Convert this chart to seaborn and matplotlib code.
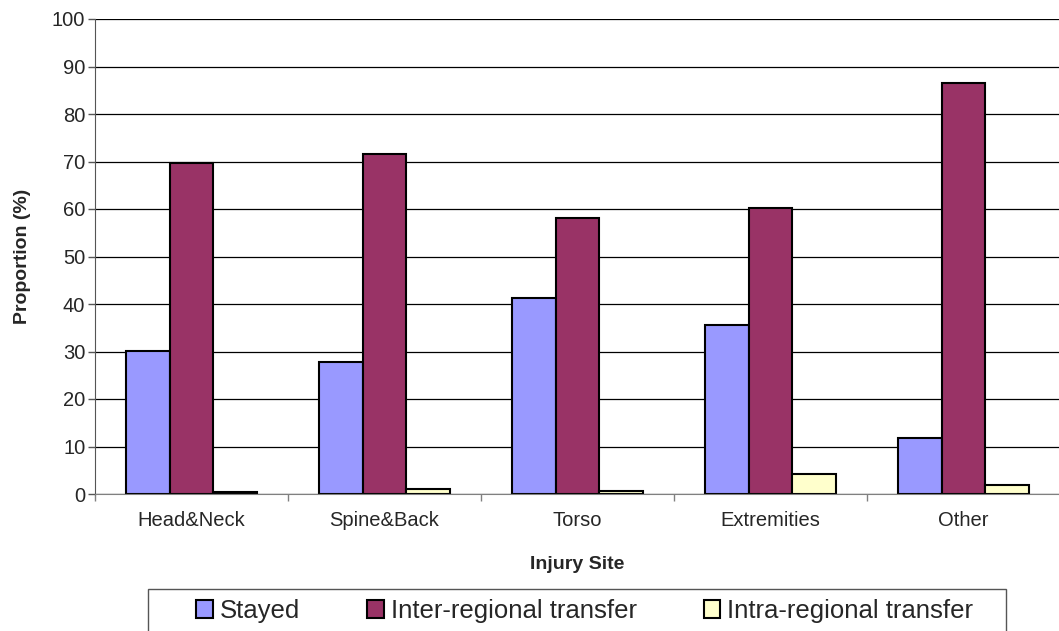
import pandas as pd
import matplotlib
matplotlib.use("Agg")
import matplotlib.pyplot as plt
import seaborn as sns
from matplotlib.patches import Rectangle

# data
sites = ["Head&Neck", "Spine&Back", "Torso", "Extremities", "Other"]
groups = ["Stayed", "Inter-regional transfer", "Intra-regional transfer"]
stayed = [30.2, 27.7, 41.2, 35.6, 11.8]
inter_regional = [69.6, 71.6, 58.1, 60.3, 86.5]
intra_regional = [0.5, 1.0, 0.6, 4.3, 2.0]
colors = ["#9999FF", "#993366", "#FFFFCC"]

rows = []
for g, vals in zip(groups, [stayed, inter_regional, intra_regional]):
    for s, v in zip(sites, vals):
        rows.append({"Injury Site": s, "Group": g, "Proportion": v})
df = pd.DataFrame(rows)

sns.set_style("white")
plt.rcParams["font.family"] = ["Liberation Sans", "DejaVu Sans"]

W, H = 1059, 631
fig = plt.figure(figsize=(W / 100, H / 100), dpi=100)
ax = fig.add_axes([95 / W, 1 - 494 / H, 965 / W, 475 / H])

sns.barplot(
    data=df, x="Injury Site", y="Proportion", hue="Group",
    order=sites, hue_order=groups, palette=colors,
    width=0.675, edgecolor="black", linewidth=1.5, saturation=1,
    errorbar=None, ax=ax,
)

ax.set_ylim(0, 100)
ax.set_xlim(-0.5, len(sites) - 0.5)
ax.set_yticks(range(0, 101, 10))
ax.yaxis.grid(True, color="black", linewidth=0.9)
ax.set_axisbelow(True)

for side in ["top", "right"]:
    ax.spines[side].set_visible(False)
ax.spines["left"].set_color("#555555")
ax.spines["bottom"].set_color("#808080")

ax.tick_params(axis="y", which="major", direction="out", length=5, width=1,
               color="#555555", labelsize=14.5, pad=2, left=True)
ax.set_xticks(range(len(sites)))
ax.set_xticklabels(sites)
ax.tick_params(axis="x", which="major", length=0, labelsize=14.5, pad=12)
ax.set_xticks([i - 0.5 for i in range(len(sites) + 1)], minor=True)
ax.tick_params(axis="x", which="minor", direction="out", length=5, width=1,
               color="#808080", bottom=True)

ax.set_xlabel("Injury Site", fontsize=14, fontweight="bold", labelpad=19)
ax.set_ylabel("Proportion (%)", fontsize=14, fontweight="bold", labelpad=15)

handles, labels = ax.get_legend_handles_labels()
ax.get_legend().remove()
fig.legend(
    handles, labels, ncol=3, frameon=False,
    loc="center left", bbox_to_anchor=(183 / W, 1 - 611 / H),
    borderpad=0, fontsize=18.5, handlelength=0.66, handleheight=0.66,
    handletextpad=0.27, columnspacing=2.6,
)
fig.patches.append(Rectangle((148 / W, 1 - 660 / H), (1006 - 148) / W, 71 / H,
                             transform=fig.transFigure, fill=False,
                             edgecolor="#555555", linewidth=1))

fig.savefig("out.png", dpi=100)
